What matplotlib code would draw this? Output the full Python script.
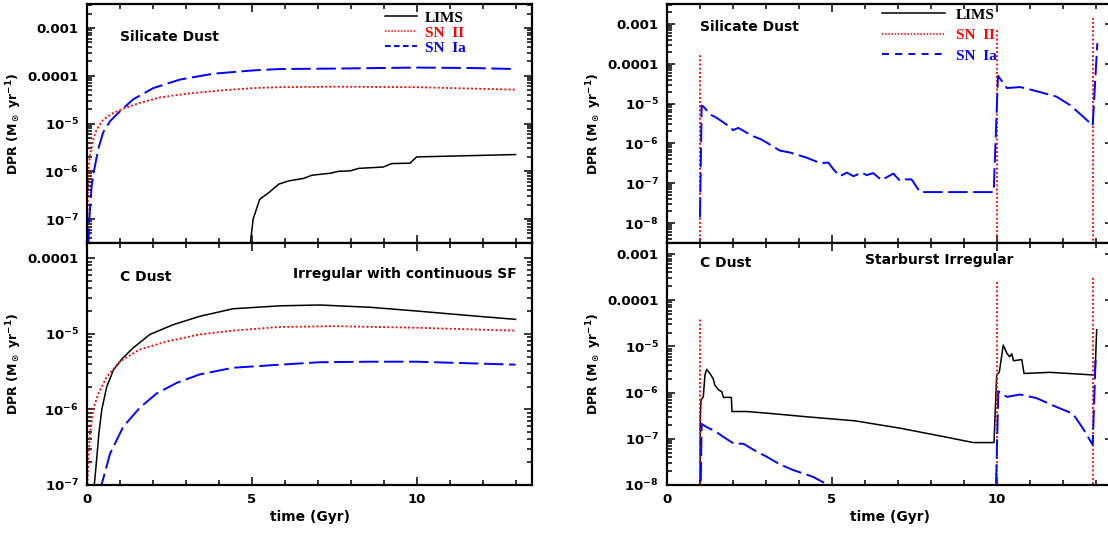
import matplotlib
matplotlib.use('Agg')
import matplotlib.pyplot as plt
from matplotlib.lines import Line2D
from matplotlib.ticker import LogLocator, FixedFormatter, FixedLocator, MultipleLocator, NullFormatter

plt.rcParams['font.family'] = ['DejaVu Sans']
plt.rcParams['font.weight'] = 'bold'
plt.rcParams['mathtext.fontset'] = 'dejavusans'
plt.rcParams['mathtext.default'] = 'bf'
plt.rcParams['lines.scale_dashes'] = False

# ---------------- data ----------------
# Left: irregular with continuous SF -- silicate dust
lt_lims_t = [4.94, 5.04, 5.24, 5.52, 5.82, 6.12, 6.57, 6.83, 7.38, 7.63, 7.98, 8.24, 8.99, 9.24, 9.80, 10.0, 13.0]
lt_lims_v = [2.5e-8, 1.0e-7, 2.6e-7, 3.6e-7, 5.4e-7, 6.3e-7, 7.1e-7, 8.3e-7, 9.1e-7, 1.0e-6, 1.02e-6,
             1.15e-6, 1.23e-6, 1.45e-6, 1.48e-6, 2.0e-6, 2.24e-6]
lt_sn2_t = [0.0, 0.04, 0.09, 0.19, 0.29, 0.49, 0.8, 1.1, 1.6, 2.21, 3.02, 4.03, 5.04, 5.85, 7.57, 9.99, 13.0]
lt_sn2_v = [2.5e-8, 1.0e-6, 2.1e-6, 4.7e-6, 7.4e-6, 1.2e-5, 1.66e-5, 2.04e-5, 2.7e-5, 3.5e-5, 4.2e-5,
            4.9e-5, 5.5e-5, 5.75e-5, 5.9e-5, 5.75e-5, 5.1e-5]
lt_sn1_t = [0.04, 0.07, 0.14, 0.21, 0.34, 0.49, 0.7, 1.0, 1.4, 2.01, 2.82, 3.83, 5.04, 5.85, 7.57, 9.99, 11.6, 13.0]
lt_sn1_v = [2.5e-8, 1.0e-7, 4.9e-7, 1.0e-6, 2.9e-6, 6.5e-6, 1.12e-5, 1.8e-5, 3.2e-5, 5.5e-5, 8.3e-5,
            1.1e-4, 1.29e-4, 1.38e-4, 1.41e-4, 1.48e-4, 1.45e-4, 1.38e-4]

# Left: irregular with continuous SF -- carbon dust
lb_lims_t = [0.21, 0.29, 0.36, 0.45, 0.6, 0.8, 1.05, 1.4, 1.91, 2.62, 3.42, 4.43, 5.85, 7.06, 8.58, 9.99, 11.6, 13.0]
lb_lims_v = [8.9e-8, 2.1e-7, 4.8e-7, 1.0e-6, 2.0e-6, 3.3e-6, 4.6e-6, 6.5e-6, 9.8e-6, 1.32e-5, 1.7e-5,
             2.14e-5, 2.34e-5, 2.4e-5, 2.24e-5, 2.0e-5, 1.74e-5, 1.55e-5]
lb_sn2_t = [0.01, 0.04, 0.09, 0.19, 0.34, 0.6, 1.0, 1.6, 2.42, 3.42, 4.43, 5.85, 7.57, 9.99, 13.0]
lb_sn2_v = [8.9e-8, 2.1e-7, 4.8e-7, 1.0e-6, 1.6e-6, 2.7e-6, 4.3e-6, 6.2e-6, 7.9e-6, 9.8e-6, 1.1e-5,
            1.23e-5, 1.26e-5, 1.2e-5, 1.1e-5]
lb_sn1_t = [0.4, 0.44, 0.7, 1.1, 1.6, 2.11, 2.72, 3.42, 4.43, 5.85, 7.06, 8.58, 9.99, 11.6, 13.0]
lb_sn1_v = [7.9e-8, 1.0e-7, 2.6e-7, 5.9e-7, 1.05e-6, 1.62e-6, 2.24e-6, 2.9e-6, 3.55e-6, 3.9e-6, 4.2e-6,
            4.27e-6, 4.27e-6, 4.07e-6, 3.9e-6]

# Right: starburst irregular -- SN II bursts
sn2_burst_t = [1.0, 10.0, 12.92]
rt_sn2_peak = [1.9e-4, 7.9e-4, 1.4e-3]
rb_sn2_peak = [4.0e-5, 2.6e-4, 3.3e-4]
sn2_floor = 1e-10

# Right: starburst -- silicate dust, SN Ia
rt_sn1_t = [1.0, 1.05, 1.1, 1.3, 1.5, 1.66, 1.81, 1.91, 2.0, 2.16, 2.42, 2.62, 2.82, 3.02, 3.42, 3.73,
            4.23, 4.64, 4.89, 5.05, 5.24, 5.45, 5.65, 5.9, 6.05, 6.25, 6.5, 6.86, 7.06, 7.21, 7.41, 7.67,
            9.9, 10.03, 10.3, 10.7, 11.2, 11.8, 12.2, 12.6, 12.9, 13.04]
rt_sn1_v = [1.4e-8, 8.9e-6, 8.5e-6, 5.4e-6, 4.4e-6, 3.6e-6, 2.95e-6, 2.7e-6, 2.15e-6, 2.45e-6, 1.85e-6,
            1.5e-6, 1.3e-6, 1.05e-6, 6.6e-7, 5.9e-7, 4.4e-7, 3.2e-7, 3.3e-7, 2.2e-7, 1.5e-7, 1.85e-7,
            1.5e-7, 1.85e-7, 1.6e-7, 1.8e-7, 1.2e-7, 1.75e-7, 1.15e-7, 1.25e-7, 1.25e-7, 6.0e-8,
            6.0e-8, 5.0e-5, 2.45e-5, 2.6e-5, 2.05e-5, 1.5e-5, 9.3e-6, 4.8e-6, 2.8e-6, 3.3e-4]

# Right: starburst -- carbon dust
rb_lims_t = [1.0, 1.01, 1.03, 1.1, 1.15, 1.2, 1.3, 1.4, 1.45, 1.56, 1.66, 1.71, 1.86, 1.95, 1.97, 2.42,
             3.02, 4.23, 5.7, 7.06, 8.37, 9.28, 9.91, 9.99, 10.07, 10.19, 10.3, 10.38, 10.45, 10.5, 10.75,
             10.82, 11.6, 12.97, 13.02]
rb_lims_v = [1e-9, 3.0e-7, 6.9e-7, 8.1e-7, 2.4e-6, 3.2e-6, 2.6e-6, 2.0e-6, 1.45e-6, 1.15e-6, 1.05e-6,
             7.9e-7, 7.9e-7, 7.9e-7, 3.9e-7, 3.9e-7, 3.6e-7, 3.0e-7, 2.45e-7, 1.7e-7, 1.12e-7, 8.3e-8,
             8.3e-8, 2.4e-6, 2.8e-6, 1.07e-5, 7.1e-6, 6.0e-6, 6.9e-6, 4.9e-6, 5.2e-6, 2.6e-6, 2.75e-6,
             2.4e-6, 2.3e-5]
rb_sn1_t = [1.0, 1.05, 1.2, 1.5, 1.71, 2.02, 2.32, 2.62, 3.02, 3.42, 3.83, 4.43, 4.83, 5.2, 9.95,
            10.04, 10.3, 10.7, 11.2, 11.8, 12.3, 12.6, 12.9, 12.99]
rb_sn1_v = [1e-9, 2.1e-7, 1.8e-7, 1.4e-7, 1.1e-7, 7.9e-8, 7.8e-8, 5.8e-8, 4.1e-8, 2.8e-8, 2.1e-8,
            1.5e-8, 1.05e-8, 6.3e-9, 2.5e-9, 1.07e-6, 8.1e-7, 9.1e-7, 7.6e-7, 4.9e-7, 3.5e-7, 1.7e-7,
            7.4e-8, 6.0e-6]

x_ticks = [0, 5, 10]
x_tick_labels = ['0', '5', '10']
series_labels = ['LIMS', 'SN  II', 'SN  Ia']
decade_labels = {-3: '0.001', -4: '0.0001', -5: r'$10^{-5}$', -6: r'$10^{-6}$',
                 -7: r'$10^{-7}$', -8: r'$10^{-8}$'}

# ---------------- styles ----------------
C_LIMS, C_SN2, C_SN1 = 'black', '#ff0000', '#0000ff'
LW = 1.1
DOT = (0, (1.4, 1.6))
DASH = (0, (14.0, 4.0))

W, H = 1108, 533
fig = plt.figure(figsize=(W / 100, H / 100), dpi=100)


def add_ax(x0, y0, x1, y1):
    return fig.add_axes([x0 / W, 1 - y1 / H, (x1 - x0) / W, (y1 - y0) / H])


def style(ax, ylog_lo, ylog_hi, decades, show_x):
    ax.set_yscale('log')
    ax.set_xlim(0, 13.5)
    ax.set_ylim(10 ** ylog_lo, 10 ** ylog_hi)
    ax.yaxis.set_major_locator(FixedLocator([10.0 ** d for d in decades]))
    ax.yaxis.set_major_formatter(FixedFormatter([decade_labels[d] for d in decades]))
    ax.yaxis.set_minor_locator(LogLocator(base=10, subs=range(2, 10), numticks=20))
    ax.yaxis.set_minor_formatter(NullFormatter())
    ax.xaxis.set_major_locator(FixedLocator(x_ticks))
    ax.xaxis.set_minor_locator(MultipleLocator(1))
    if show_x:
        ax.xaxis.set_major_formatter(FixedFormatter(x_tick_labels))
        ax.set_xlabel('time (Gyr)', fontsize=10, fontweight='bold')
        ax.xaxis.set_label_coords(0.5, -0.105)
    else:
        ax.xaxis.set_major_formatter(NullFormatter())
    ax.tick_params(which='both', direction='in', top=True, right=True, width=1.1)
    ax.tick_params(which='major', length=6, labelsize=9.5, pad=6)
    ax.tick_params(which='minor', length=3.5)
    for s in ax.spines.values():
        s.set_linewidth(1.6)
    ax.set_ylabel(r'DPR (M$_\odot$ yr$^{-1}$)', fontsize=9, fontweight='bold')
    ax.yaxis.set_label_coords(-0.142, 0.5)


ax_lt = add_ax(87, 4, 532, 243)
ax_lb = add_ax(87, 243, 532, 485)
ax_rt = add_ax(667, 4, 1112.5, 243)
ax_rb = add_ax(667, 243, 1112.5, 485)

style(ax_lt, -7.5, -2.5, [-3, -4, -5, -6, -7], False)
style(ax_lb, -7.0, -3.8, [-4, -5, -6, -7], True)
style(ax_rt, -8.5, -2.5, [-3, -4, -5, -6, -7, -8], False)
style(ax_rb, -8.0, -2.76, [-3, -4, -5, -6, -7, -8], True)

# left top
ax_lt.plot(lt_lims_t, lt_lims_v, color=C_LIMS, lw=LW)
ax_lt.plot(lt_sn2_t, lt_sn2_v, color=C_SN2, lw=1.3, linestyle=DOT)
ax_lt.plot(lt_sn1_t, lt_sn1_v, color=C_SN1, lw=1.4, linestyle=DASH)
# left bottom
ax_lb.plot(lb_lims_t, lb_lims_v, color=C_LIMS, lw=LW)
ax_lb.plot(lb_sn2_t, lb_sn2_v, color=C_SN2, lw=1.3, linestyle=DOT)
ax_lb.plot(lb_sn1_t, lb_sn1_v, color=C_SN1, lw=1.4, linestyle=DASH)
# right top
ax_rt.vlines(sn2_burst_t, sn2_floor, rt_sn2_peak, colors=C_SN2, lw=1.3, linestyles=[DOT])
ax_rt.plot(rt_sn1_t, rt_sn1_v, color=C_SN1, lw=1.4, linestyle=DASH)
# right bottom
ax_rb.plot(rb_lims_t, rb_lims_v, color=C_LIMS, lw=LW)
ax_rb.vlines(sn2_burst_t, sn2_floor, rb_sn2_peak, colors=C_SN2, lw=1.3, linestyles=[DOT])
ax_rb.plot(rb_sn1_t, rb_sn1_v, color=C_SN1, lw=1.4, linestyle=DASH)

# panel annotations
txt = dict(fontsize=10, fontweight='bold')
ax_lt.text(0.074, 0.862, 'Silicate Dust', transform=ax_lt.transAxes, va='center', ha='left', **txt)
ax_lb.text(0.074, 0.86, 'C Dust', transform=ax_lb.transAxes, va='center', ha='left', **txt)
ax_lb.text(0.966, 0.872, 'Irregular with continuous SF', transform=ax_lb.transAxes, va='center', ha='right', **txt)
ax_rt.text(0.074, 0.904, 'Silicate Dust', transform=ax_rt.transAxes, va='center', ha='left', **txt)
ax_rb.text(0.074, 0.917, 'C Dust', transform=ax_rb.transAxes, va='center', ha='left', **txt)
ax_rb.text(0.444, 0.93, 'Starburst Irregular', transform=ax_rb.transAxes, va='center', ha='left', **txt)


# legends (proxy handles carrying the legend's own dash patterns)
def proxies(dash, dot):
    return [Line2D([], [], color=C_LIMS, lw=LW),
            Line2D([], [], color=C_SN2, lw=1.2, linestyle=dot),
            Line2D([], [], color=C_SN1, lw=1.4, linestyle=dash)]


lp = dict(family=['Liberation Serif'], weight='bold', size=11)
leg1 = ax_lt.legend(handles=proxies((0, (4.0, 2.5)), (0, (1.0, 1.3))), labels=series_labels,
                    loc='upper left', bbox_to_anchor=((385 - 87) / 445, (243 - 11) / 239),
                    frameon=False, prop=lp, labelcolor=[C_LIMS, C_SN2, C_SN1],
                    handlelength=2.1, handletextpad=0.5, labelspacing=0.08, borderpad=0, borderaxespad=0)
leg2 = ax_rt.legend(handles=proxies((0, (5.0, 4.5)), (0, (1.0, 1.3))), labels=series_labels,
                    loc='upper left', bbox_to_anchor=((882 - 667) / 445.5, (243 - 8) / 239),
                    frameon=False, prop=lp, labelcolor=[C_LIMS, C_SN2, C_SN1],
                    handlelength=4.1, handletextpad=0.72, labelspacing=0.45, borderpad=0, borderaxespad=0)

fig.savefig('out.png', dpi=100)
